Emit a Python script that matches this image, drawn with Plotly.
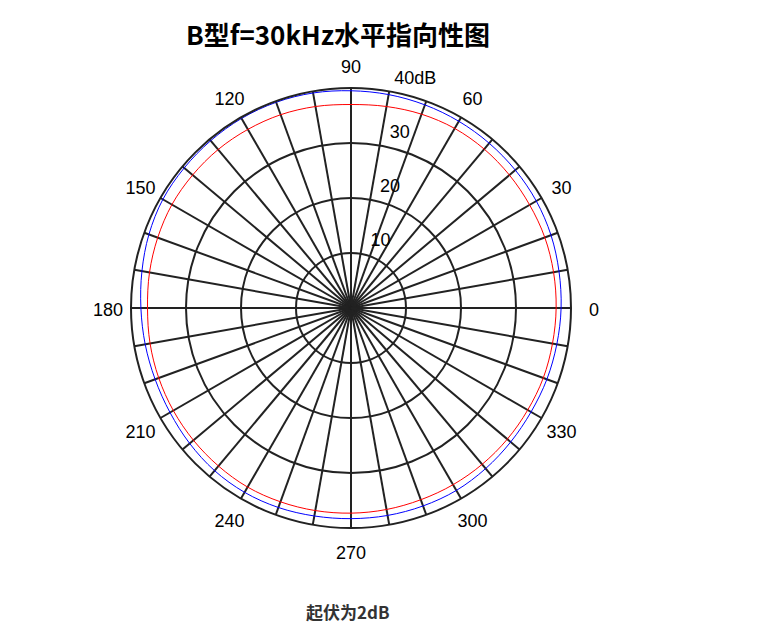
import plotly.graph_objects as go

angles = list(range(0, 360, 10))
blue_db = [38.2, 38.4, 38.7, 38.9, 39.0, 39.1, 39.2, 39.3, 39.4, 39.5, 39.7, 39.8,
           39.8, 39.7, 39.6, 39.5, 39.1, 38.6, 38.2, 38.0, 37.9, 38.0, 38.3, 38.6,
           38.7, 38.6, 38.4, 38.3, 38.3, 38.3, 38.3, 38.1, 37.9, 37.8, 37.9, 38.0]
red_db = [37.3, 37.4, 37.5, 37.5, 37.6, 37.7, 37.7, 37.5, 37.2, 37.0, 37.2, 37.4,
          37.5, 37.6, 37.6, 37.6, 37.4, 37.2, 37.0, 37.1, 37.2, 37.3, 37.4, 37.5,
          37.6, 37.5, 37.4, 37.3, 37.2, 37.1, 37.1, 37.1, 37.1, 37.1, 37.2, 37.2]
label_angles = [0, 30, 60, 90, 120, 150, 180, 210, 240, 270, 300, 330]
angle_labels = ["0", "30", "60", "90", "120", "150", "180", "210", "240", "270", "300", "330"]
radial_vals = [10, 20, 30, 40]
radial_labels = ["10", "20", "30", "40dB"]

title_text = "B型f=30kHz水平指向性图"
note_text = "起伏为2dB"

# label placement (style constants)
RMAX = 40
LABEL_RMAX = 45          # overlay polar range, used only for angular labels
ANG_LABEL_R = 44.2       # where angular label centres sit (same units as dB scale)
RAD_LABEL_THETA = 80
NB = "\u00a0"
rad_text = [NB * (1 if len(t) > 2 else 2) + t for t in radial_labels]

lab_font = dict(family="Liberation Sans, Arial, sans-serif", size=18, color="black")

fig = go.Figure()
fig.add_trace(go.Scatterpolar(
    r=blue_db + [blue_db[0]], theta=angles + [angles[0]], mode="lines",
    line=dict(color="blue", width=1, shape="spline"), showlegend=False, hoverinfo="skip"))
fig.add_trace(go.Scatterpolar(
    r=red_db + [red_db[0]], theta=angles + [angles[0]], mode="lines",
    line=dict(color="red", width=1, shape="spline"), showlegend=False, hoverinfo="skip"))
# angular tick labels on a concentric overlay polar
fig.add_trace(go.Scatterpolar(
    r=[ANG_LABEL_R] * len(label_angles), theta=label_angles, mode="text",
    text=angle_labels, textposition="middle center", cliponaxis=False, textfont=lab_font,
    showlegend=False, hoverinfo="skip", subplot="polar2"))
# radial tick labels on an overlay polar with the same scale
fig.add_trace(go.Scatterpolar(
    r=radial_vals, theta=[RAD_LABEL_THETA] * len(radial_vals), mode="text",
    text=rad_text, textposition="top right", cliponaxis=False, textfont=lab_font,
    showlegend=False, hoverinfo="skip", subplot="polar3"))

W, H = 774, 635
off = 8  # page body margin
cx, cy, R = 351 - off, 308 - off, 220
R2 = R * LABEL_RMAX / RMAX


def dom(rad, dy=0.0):
    c = cy + dy
    return dict(x=[(cx - rad) / W, (cx + rad) / W], y=[(H - c - rad) / H, (H - c + rad) / H])


hidden_ang = dict(direction="counterclockwise", rotation=0, visible=False,
                  showgrid=False, showline=False, showticklabels=False, ticks="")

fig.update_layout(
    width=W, height=H,
    margin=dict(l=0, r=0, t=0, b=0),
    paper_bgcolor="white",
    font=dict(family="Liberation Sans, Arial, sans-serif", size=18, color="black"),
    polar=dict(
        domain=dom(R),
        bgcolor="white",
        angularaxis=dict(
            direction="counterclockwise", rotation=0,
            tickmode="array", tickvals=angles, showticklabels=False,
            showgrid=True, gridcolor="#222222", gridwidth=2,
            showline=True, linecolor="#222222", linewidth=2,
            ticks="",
        ),
        radialaxis=dict(
            range=[0, RMAX], angle=80,
            tickmode="array", tickvals=radial_vals, showticklabels=False,
            showgrid=True, gridcolor="#222222", gridwidth=2,
            showline=False, ticks="",
        ),
    ),
    polar2=dict(
        domain=dom(R2, 3.5),
        bgcolor="rgba(0,0,0,0)",
        angularaxis=hidden_ang,
        radialaxis=dict(range=[0, LABEL_RMAX], visible=False, showgrid=False,
                        showline=False, showticklabels=False, ticks=""),
    ),
    polar3=dict(
        domain=dom(R, -3.0),
        bgcolor="rgba(0,0,0,0)",
        angularaxis=hidden_ang,
        radialaxis=dict(range=[0, RMAX], visible=False, showgrid=False,
                        showline=False, showticklabels=False, ticks=""),
    ),
    annotations=[
        dict(text="<b>" + title_text + "</b>", x=(338 - off) / W, y=1 - (33 - off) / H,
             xref="paper", yref="paper",
             showarrow=False, xanchor="center", yanchor="middle",
             font=dict(family="Noto Sans CJK SC", size=26, color="black")),
        dict(text="<b>" + note_text + "</b>", x=(348 - off) / W, y=1 - (611 - off) / H,
             xref="paper", yref="paper",
             showarrow=False, xanchor="center", yanchor="middle",
             font=dict(family="Noto Sans CJK SC", size=17, color="#333333")),
    ],
)

fig.write_html("out.html")
